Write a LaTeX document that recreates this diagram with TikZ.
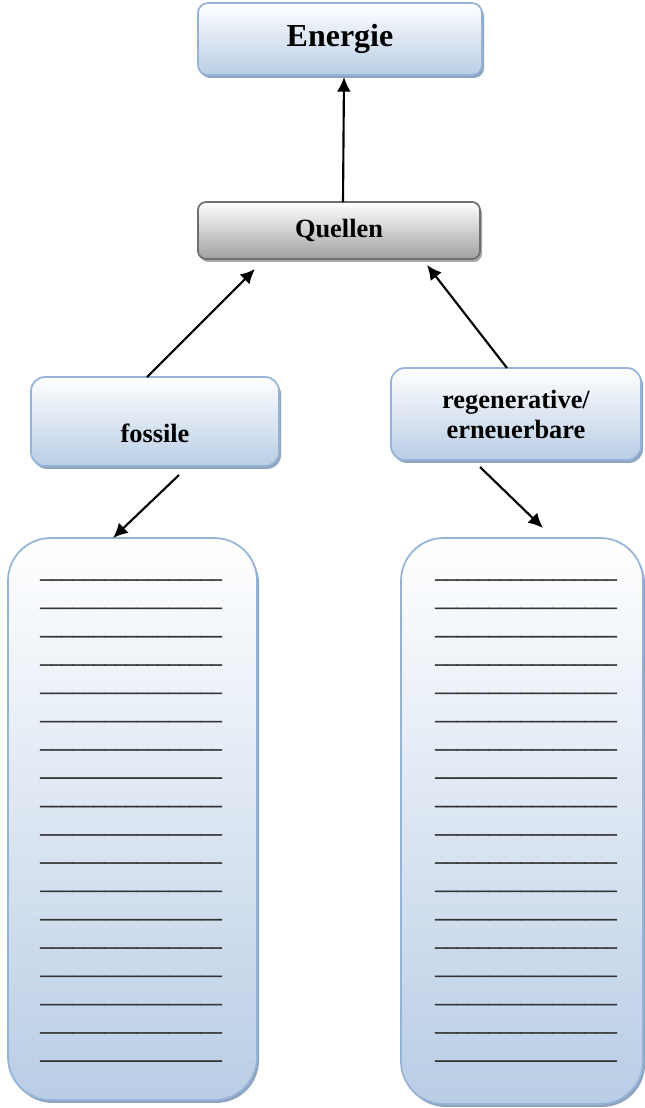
\documentclass[tikz,border=0pt]{standalone}
\usepackage{fontspec}
\setmainfont{Liberation Serif}
\newfontfamily\rulefont[FakeBold=2]{Liberation Serif}
\usetikzlibrary{arrows.meta,calc,shadows}

\definecolor{edgeblue}{HTML}{95B3D7}
\definecolor{fillblue}{HTML}{B9CDE5}
\definecolor{shadowblue}{HTML}{8FA3BF}
\definecolor{edgegray}{HTML}{6E6E6E}
\definecolor{fillgray}{HTML}{A0A0A0}
\definecolor{shadowgray}{HTML}{A8A8A8}

\newcommand{\ruleline}{\_\_\_\_\_\_\_\_\_\_\_\_\_\_\_\_\_}

\begin{document}
\begin{tikzpicture}[x=0.75pt,y=-0.75pt,
  every node/.style={inner sep=0pt,outer sep=0pt},
  bluebox/.style={draw=edgeblue,line width=1.3pt,
    top color=white,bottom color=fillblue,
    drop shadow={shadow xshift=1.5pt,shadow yshift=-2.2pt,fill=shadowblue,opacity=1},
    font=\bfseries\fontsize{19.8pt}{22.5pt}\selectfont,align=center},
  graybox/.style={draw=edgegray,line width=1.3pt,
    top color=white,bottom color=fillgray,
    drop shadow={shadow xshift=1.5pt,shadow yshift=-2.2pt,fill=shadowgray,opacity=1},
    font=\bfseries\fontsize{19.8pt}{22.5pt}\selectfont,align=center},
  listbox/.style={bluebox,rounded corners=32pt,top color=white,bottom color=fillblue},
  ruling/.style={anchor=base,text=black!80,font=\rulefont\fontsize{16pt}{18pt}\selectfont},
  conn/.style={line width=1.6pt,-{Latex[length=11pt,width=10.5pt]}}
]
\useasboundingbox (0,0) rectangle (644,1108);

% top of the hierarchy
\node[bluebox,rounded corners=7.5pt,minimum width=213pt,minimum height=54pt,
      font=\bfseries\fontsize{24pt}{28pt}\selectfont] (energie) at (340,39) {Energie};
\node[graybox,rounded corners=6pt,minimum width=211.5pt,minimum height=42.75pt] (quellen) at (339,230.5) {Quellen};

% the two kinds of sources
\node[bluebox,rounded corners=10.5pt,minimum width=186pt,minimum height=66.75pt] (fossile) at (155,421.5)
  {\raisebox{-8.6pt}[\height][\depth]{fossile}};
\node[bluebox,rounded corners=10.5pt,minimum width=187.5pt,minimum height=69pt] (regen) at (516,414)
  {regenerative/\\erneuerbare};

% lists to fill in
\node[listbox,minimum width=186.75pt,minimum height=421.5pt] (leftlist) at (132.5,819) {};
\node[listbox,minimum width=181.5pt,minimum height=424.5pt] (rightlist) at (522,821) {};

\foreach \i in {0,...,17} {
  \node[ruling] (ll\i) at ($(leftlist.north)+(-1.5,39.9+28.3*\i)$) {\ruleline};
  \node[ruling] (rl\i) at ($(rightlist.north)+(4,39.9+28.3*\i)$) {\ruleline};
}

% connectors
\draw[conn] ($(quellen.north)+(4,0)$) -- ($(energie.south)+(4,2)$);
\draw[conn] ($(fossile.north)+(-8,0)$) -- ($(quellen.south west)+(57,10)$);
\draw[conn] ($(regen.north)+(-9,0)$) -- ($(quellen.south east)+(-53,6)$);
\draw[conn] ($(fossile.south)+(24,9)$) -- ($(leftlist.north)+(-19.5,0)$);
\draw[conn] ($(regen.south)+(-36,7)$) -- ($(rightlist.north)+(21,-10)$);
\end{tikzpicture}
\end{document}
